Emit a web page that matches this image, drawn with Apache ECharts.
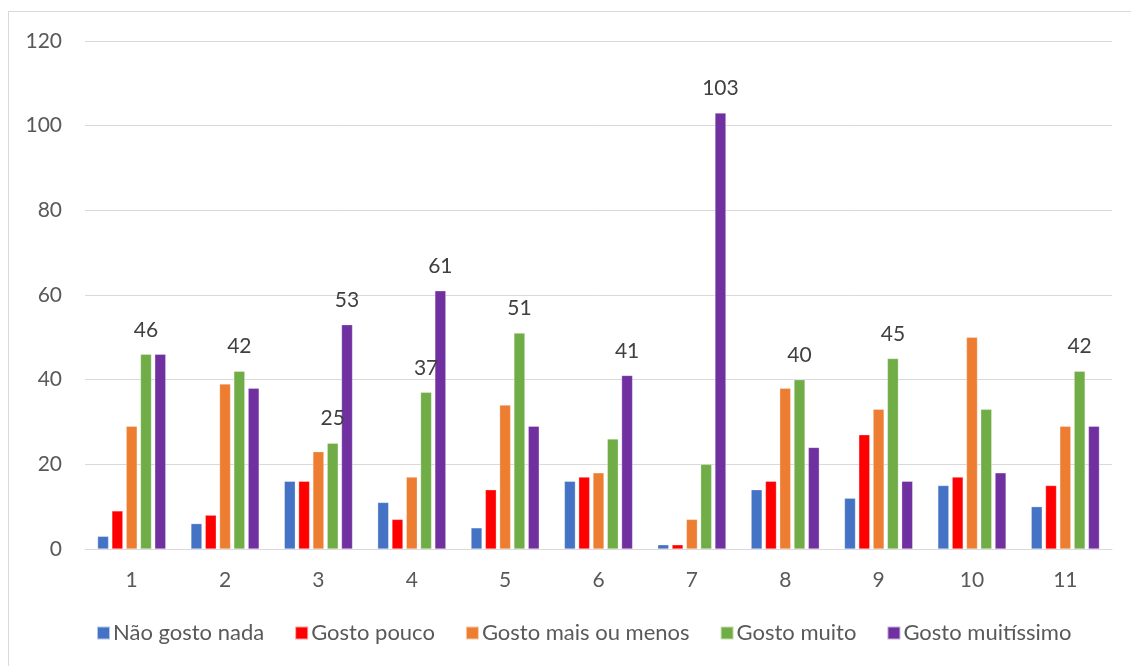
<!DOCTYPE html>
<html>
<head>
<meta charset="utf-8">
<script src="https://cdn.jsdelivr.net/npm/echarts@6/dist/echarts.min.js"></script>
<style>
html,body{margin:0;padding:0;background:#fff;}
#frame{position:absolute;left:8px;top:11px;width:1140px;height:670px;border:1px solid #d9d9d9;box-sizing:border-box;}
#chart{position:absolute;left:0;top:0;width:1131px;height:666px;}
</style>
</head>
<body>
<div id="frame"></div>
<div id="chart"></div>
<script>
const categories = ['1','2','3','4','5','6','7','8','9','10','11'];
const seriesNames = ['Não gosto nada','Gosto pouco','Gosto mais ou menos','Gosto muito','Gosto muitíssimo'];
const naoGostoNada     = [3, 6, 16, 11, 5, 16, 1, 14, 12, 15, 10];
const gostoPouco       = [9, 8, 16, 7, 14, 17, 1, 16, 27, 17, 15];
const gostoMaisOuMenos = [29, 39, 23, 17, 34, 18, 7, 38, 33, 50, 29];
const gostoMuito       = [46, 42, 25, 37, 51, 26, 20, 40, 45, 33, 42];
const gostoMuitissimo  = [46, 38, 53, 61, 29, 41, 103, 24, 16, 18, 29];
// which categories show a data label per series
const labelGreen  = [1,1,1,1,1,0,0,1,1,0,1];
const labelPurple = [0,0,1,1,0,1,1,0,0,0,0];
const yTicks = [0, 20, 40, 60, 80, 100, 120];

const colors = ['#4472C4','#FF0000','#ED7D31','#70AD47','#7030A0'];
const font = "Lato, 'Liberation Sans', sans-serif";
const allData = [naoGostoNada, gostoPouco, gostoMaisOuMenos, gostoMuito, gostoMuitissimo];
const labelFlags = [null, null, null, labelGreen, labelPurple];

const chart = echarts.init(document.getElementById('chart'));
chart.setOption({
  animation: false,
  color: colors,
  textStyle: {fontFamily: font},
  grid: {left: 85, right: 19, top: 41, bottom: 117},
  legend: {
    bottom: 17, left: 91,
    itemWidth: 13, itemHeight: 13, itemGap: 30,
    icon: 'rect',
    textStyle: {fontFamily: font, fontSize: 22, color: '#595959', padding:[0,0,0,-2]},
    data: seriesNames
  },
  xAxis: {
    type: 'category', data: categories,
    axisLine: {lineStyle: {color: '#d9d9d9', width: 1}},
    axisTick: {show: false},
    axisLabel: {color: '#595959', fontSize: 21, fontFamily: font, margin: 21}
  },
  yAxis: {
    type: 'value', min: yTicks[0], max: yTicks[yTicks.length-1], interval: 20,
    axisLine: {show: false}, axisTick: {show: false},
    splitLine: {lineStyle: {color: '#d9d9d9', width: 1}},
    axisLabel: {color: '#595959', fontSize: 21, fontFamily: font, margin: 23}
  },
  series: allData.map((d, si) => ({
    name: seriesNames[si],
    type: 'bar',
    barWidth: 11,
    barGap: '30%',
    itemStyle: {borderColor: 'rgba(255,255,255,0.6)', borderWidth: 0.5},
    data: d.map((v, i) => {
      const flags = labelFlags[si];
      if (flags && flags[i]) {
        return {value: v, label: {show: true, position: 'top', distance: 14, color: '#404040', fontSize: 21, fontFamily: font}};
      }
      return v;
    })
  }))
});
</script>
</body>
</html>
